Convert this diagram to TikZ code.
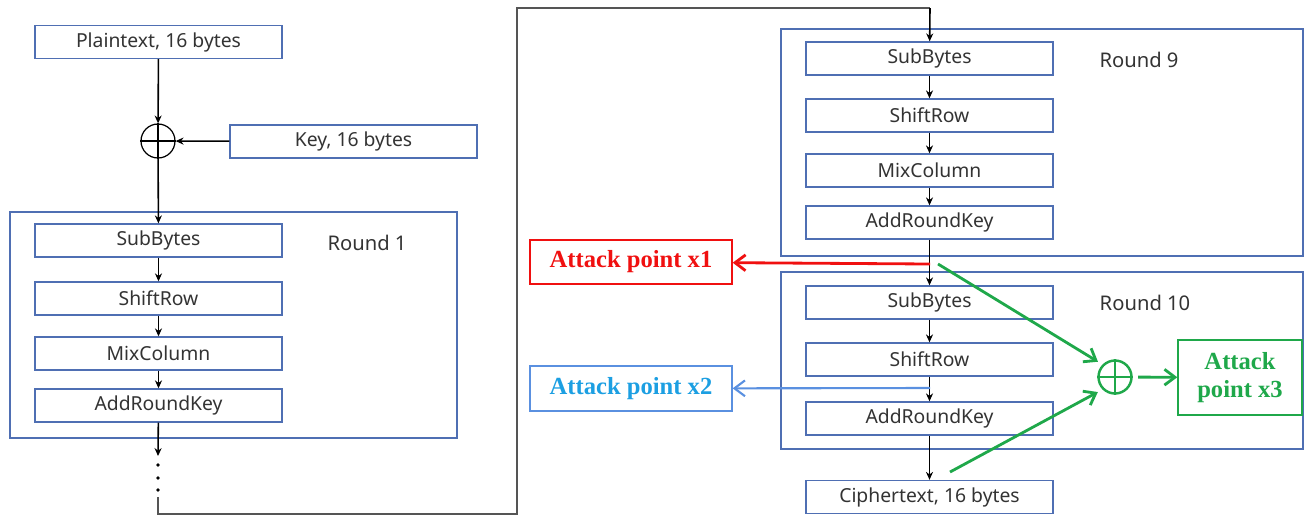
\documentclass[tikz,border=0pt]{standalone}
\usepackage{fontspec}
\setmainfont{Noto Sans}
\newfontfamily\attackfont{Liberation Serif}
\usetikzlibrary{arrows.meta}

\definecolor{boxblue}{HTML}{4F6FB3}
\definecolor{framegray}{HTML}{555555}
\definecolor{txtgray}{HTML}{333333}
\definecolor{apred}{HTML}{F01010}
\definecolor{apblue}{HTML}{5A90E0}
\definecolor{apbluetxt}{HTML}{1C9FE2}
\definecolor{apgreen}{HTML}{1FA84A}

\tikzset{
  stepbox/.style={draw=boxblue, line width=0.8pt, minimum width=4.94cm, minimum height=0.66cm,
                  inner sep=0pt, text=txtgray, font=\fontsize{11}{12}\selectfont},
  roundframe/.style={draw=boxblue, line width=0.8pt},
  roundlbl/.style={text=txtgray, font=\fontsize{11.5}{12}\selectfont},
  flow/.style={black, line width=0.9pt, -{Stealth[length=4.5pt,width=4pt]}},
  wire/.style={framegray, line width=0.8pt},
  apbox/.style={draw=#1, line width=0.8pt, text=#1, inner sep=0pt,
                font=\attackfont\bfseries\fontsize{14}{16}\selectfont},
  aparrow/.style={#1, line width=1.6pt, -{Straight Barb[length=6pt,width=9pt]}},
}

\begin{document}
\begin{tikzpicture}[x=0.02cm, y=-0.02cm]
  \useasboundingbox (0,0) rectangle (1304,515);

  % --- left column: first round
  \node[stepbox] (plain) at (158.5,42) {Plaintext, 16 bytes};
  \node[stepbox] (key) at (353.5,141.5) {Key, 16 bytes};
  \node[draw, circle, minimum size=0.68cm, inner sep=0pt, line width=0.7pt] (xor) at (158,141) {};
  \draw[line width=0.7pt] (xor.north) -- (xor.south) (xor.west) -- (xor.east);

  \draw[roundframe] (10,212) rectangle (457,438);
  \node[roundlbl] (r1) at (367,243) {Round 1};
  \foreach \n/\t/\y in {sb/SubBytes/240.5, sr/ShiftRow/298.5, mc/MixColumn/353.5, ak/AddRoundKey/405.5}
    \node[stepbox] (l\n) at (158.5,\y) {\t};

  \draw[flow] (plain) -- (xor);
  \draw[flow] (key) -- (xor);
  \draw[flow] (xor) -- (lsb);
  \foreach \a/\b in {lsb/lsr, lsr/lmc, lmc/lak}
    \draw[flow] (\a) -- (\b);

  % dots and the wire round to the last rounds
  \coordinate (ldown) at (158,456);
  \draw[flow] (lak) -- (ldown);
  \foreach \y in {465,478,490}
    \fill (158,\y) circle (1.8);
  \coordinate (wstart) at (158,497);
  \draw[wire] (wstart) -- (158,514) -- (517,514) -- (517,8) -- (930,8);

  % --- right column: rounds 9 and 10
  \draw[roundframe] (781,29) rectangle (1303,256);
  \node[roundlbl] (r9) at (1139,60) {Round 9};
  \foreach \n/\t/\y in {sb/SubBytes/58.5, sr/ShiftRow/115.5, mc/MixColumn/170.5, ak/AddRoundKey/222.5}
    \node[stepbox] (a\n) at (929.5,\y) {\t};

  \draw[roundframe] (781,272) rectangle (1303,449);
  \node[roundlbl] (r10) at (1145,303) {Round 10};
  \foreach \n/\t/\y in {sb/SubBytes/302.5, sr/ShiftRow/359.5, ak/AddRoundKey/418.5}
    \node[stepbox] (b\n) at (929.5,\y) {\t};
  \node[stepbox] (cipher) at (929.5,497) {Ciphertext, 16 bytes};

  \draw[flow] (930,8) -- (asb);
  \foreach \a/\b in {asb/asr, asr/amc, amc/aak, aak/bsb, bsb/bsr, bsr/bak, bak/cipher}
    \draw[flow] (\a) -- (\b);

  % attack points
  \node[apbox=apred, minimum width=4.04cm, minimum height=0.88cm] (x1) at (631,262) {Attack point x1};
  \node[apbox=apblue, text=apbluetxt, minimum width=4.04cm, minimum height=0.9cm] (x2) at (631,388.5) {Attack point x2};
  \node[apbox=apgreen, minimum width=2.48cm, minimum height=1.5cm, align=center] (x3) at (1240,377.5) {Attack\\point x3};

  \coordinate (tap1) at (930,264);
  \coordinate (tap2) at (930,388);
  \draw[aparrow=apred] (tap1) -- (x1);
  \draw[aparrow=apblue, line width=1.2pt] (tap2) -- (x2);

  \node[draw=apgreen, circle, minimum size=0.66cm, inner sep=0pt, line width=1.4pt] (gxor) at (1115,377) {};
  \draw[apgreen, line width=1.4pt] (gxor.north) -- (gxor.south) (gxor.west) -- (gxor.east);
  \coordinate (g1) at (938,264);
  \coordinate (g2) at (950,472);
  \draw[aparrow=apgreen, shorten >=3pt] (g1) -- (gxor.north west);
  \draw[aparrow=apgreen, shorten >=3pt] (g2) -- (gxor.south west);
  \draw[aparrow=apgreen, shorten <=3pt] (gxor) -- (x3);
\end{tikzpicture}
\end{document}
